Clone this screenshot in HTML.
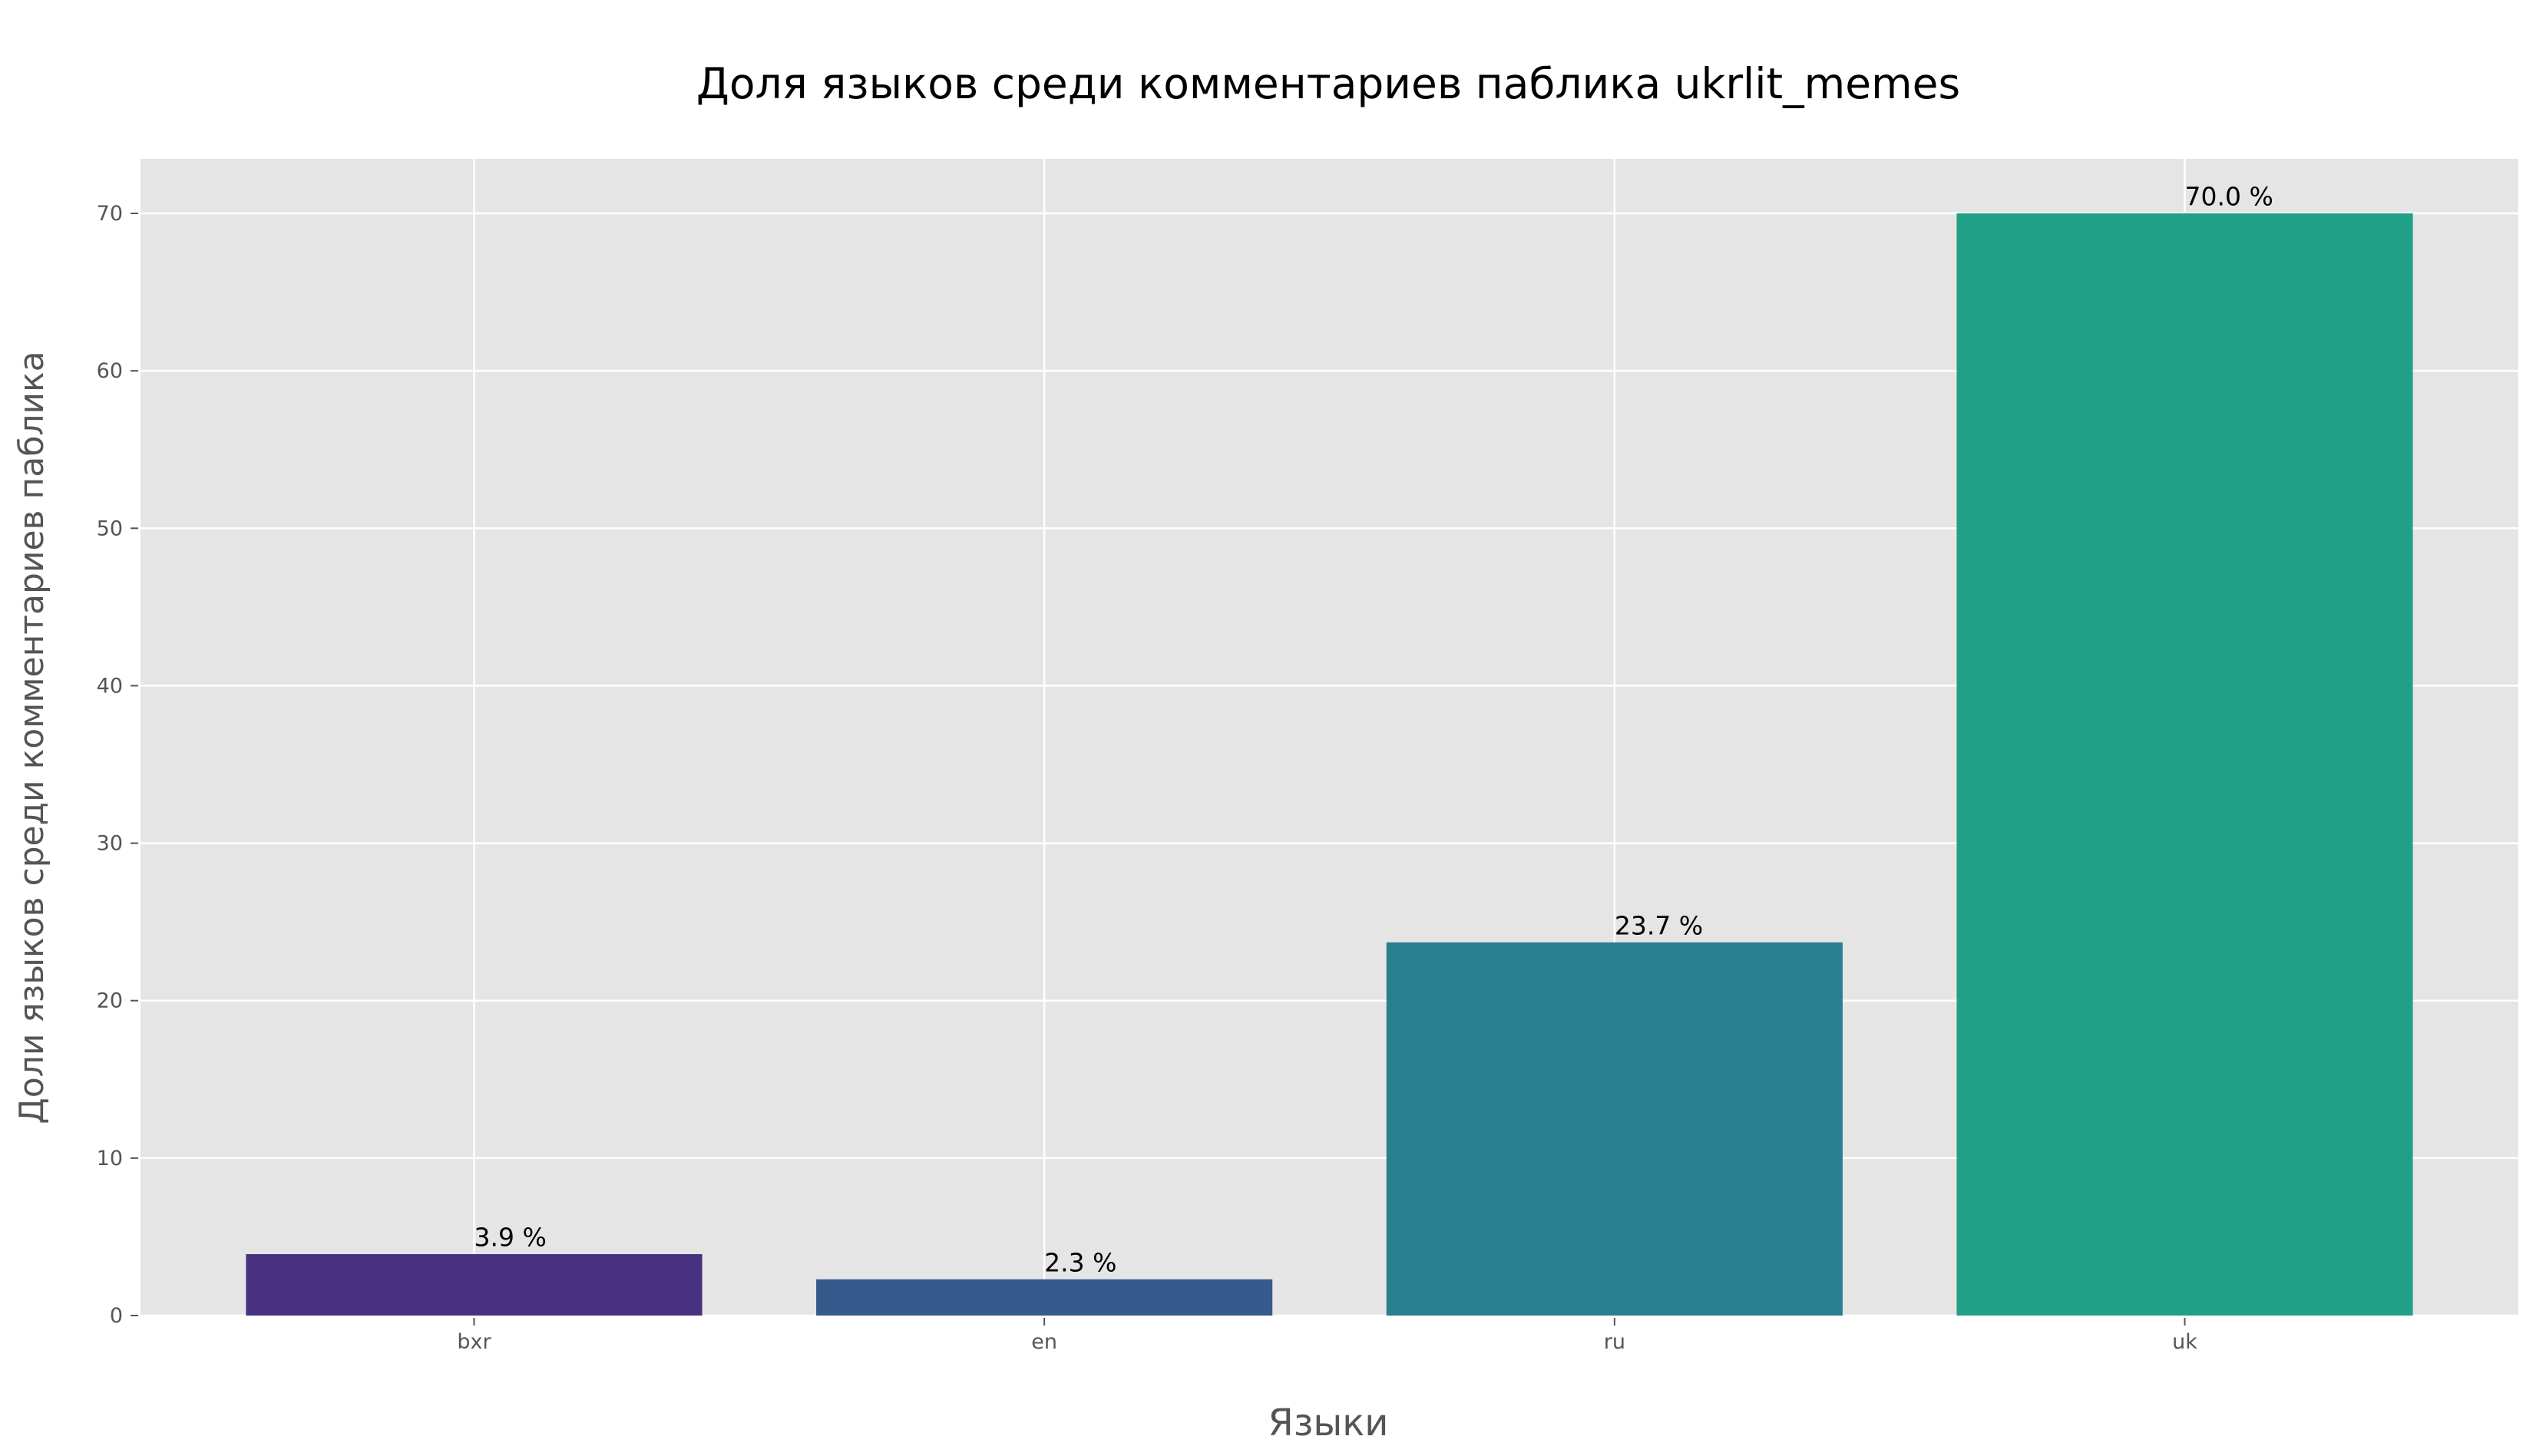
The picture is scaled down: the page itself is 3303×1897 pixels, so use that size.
<!DOCTYPE html>
<html><head><meta charset="utf-8"><style>
html,body{margin:0;padding:0;background:#fff}
svg{display:block}
text{font-family:"DejaVu Sans","Liberation Sans",sans-serif}
</style></head><body>
<svg id="chart" width="3303" height="1897" viewBox="0 0 3303 1897" xmlns="http://www.w3.org/2000/svg">
<text x="1730" y="128" font-size="55" text-anchor="middle" fill="#000">Доля языков среди комментариев паблика ukrlit_memes</text>
<rect x="183" y="207" width="3097" height="1507" fill="#e5e5e5"/>
<g id="grid"></g><g id="bars"></g><g id="labels"></g><g id="axes"></g>
<text x="1730" y="1870" font-size="48" text-anchor="middle" fill="#555">Языки</text>
<text transform="translate(56,961) rotate(-90)" font-size="44" text-anchor="middle" fill="#555">Доли языков среди комментариев паблика</text>
</svg>
<script>
const categories = ["bxr","en","ru","uk"];
const shares = [3.9, 2.3, 23.7, 70.0];
const valueLabels = ["3.9 %","2.3 %","23.7 %","70.0 %"];
const yTicks = [0,10,20,30,40,50,60,70];
const barColors = ["#48317e","#355a8c","#287f8e","#20a187"];

const NS="http://www.w3.org/2000/svg";
const plotLeft=183,plotRight=3280,plotTop=207,y0px=1714,y70px=278;
const xMin=-0.585,xMax=3.585;
function xs(v){return plotLeft+(v-xMin)/(xMax-xMin)*(plotRight-plotLeft);}
function ys(v){return y0px-v*(y0px-y70px)/70;}
function mk(tag,attrs,parent,txt){const e=document.createElementNS(NS,tag);for(const k in attrs)e.setAttribute(k,attrs[k]);if(txt!==undefined)e.textContent=txt;parent.appendChild(e);return e;}
const gridG=document.getElementById('grid'),barsG=document.getElementById('bars'),labelsG=document.getElementById('labels'),axesG=document.getElementById('axes');
yTicks.forEach(t=>{
  const y=ys(t);
  const g=mk('line',{x1:plotLeft,x2:plotRight,y1:y,y2:y,stroke:'#fff','stroke-width':2.5},gridG);
  
  
  const tk=mk('line',{x1:170,x2:180,y1:y,y2:y,stroke:'#555','stroke-width':2},axesG);
  
  
  const tl=mk('text',{x:160,y:y+9,'font-size':27,'text-anchor':'end',fill:'#555'},axesG,String(t));
  
  
});
categories.forEach((c,i)=>{
  const cx=xs(i);
  const g=mk('line',{x1:cx,x2:cx,y1:plotTop,y2:y0px,stroke:'#fff','stroke-width':2.5},gridG);
  
  
  const w=xs(0.4)-xs(-0.4);
  const b=mk('rect',{x:cx-w/2,y:ys(shares[i]),width:w,height:y0px-ys(shares[i]),fill:barColors[i]},barsG);
  
  
  const l=mk('text',{x:cx,y:ys(shares[i]+0.5),'font-size':33,fill:'#000'},labelsG,valueLabels[i]);
  
  
  const tk=mk('line',{x1:cx,x2:cx,y1:1717,y2:1727,stroke:'#555','stroke-width':2},axesG);
  
  
  const tl=mk('text',{x:cx,y:1757,'font-size':27,'text-anchor':'middle',fill:'#555'},axesG,c);
  
  
});
</script>
</body></html>
